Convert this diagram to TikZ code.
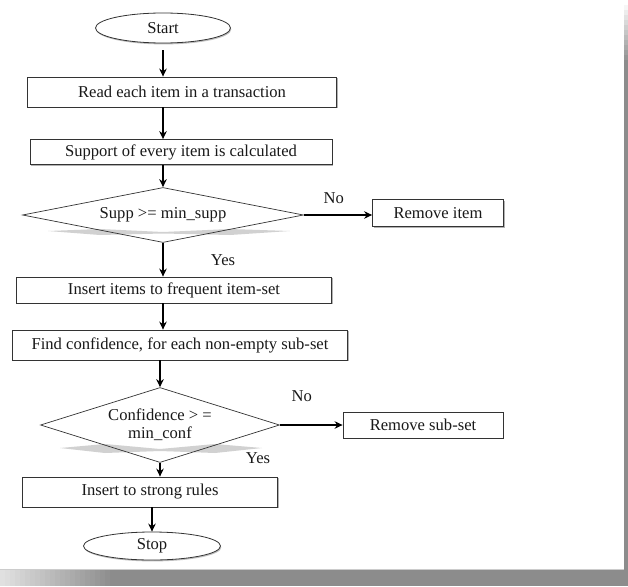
\documentclass[tikz,border=0pt]{standalone}
\usepackage{fontspec}
\setmainfont{Liberation Serif}
\usetikzlibrary{shapes.geometric,arrows.meta,shadows}

\begin{document}
\begin{tikzpicture}[x=1pt, y=-1pt,
    txt/.style={font=\fontsize{16.6}{18}\selectfont, text=black!90},
    procbox/.style={txt, draw=black!80, line width=0.8pt, fill=white, rectangle,
        inner sep=1pt, drop shadow={shadow xshift=1.4pt, shadow yshift=-1.4pt, opacity=0.6}},
    termnode/.style={txt, draw=black!80, line width=0.8pt, fill=white, ellipse,
        inner sep=0pt, drop shadow={shadow xshift=0.8pt, shadow yshift=-1.4pt, opacity=0.5}},
    decision/.style={txt, draw=black!80, line width=0.7pt, diamond, inner sep=1pt, align=center},
    flow/.style={line width=1.7pt, -{Stealth[length=8pt, width=7.5pt]}},
    lbl/.style={txt, inner sep=0pt}]

    % page with its shadowed edges
    \useasboundingbox (0,0) rectangle (628,586);
    \fill[white] (0,0) rectangle (624,569);
    \fill[black!45] (624,60) rectangle (628,569);
    \fill[black!45] (110,569) rectangle (628,586);
    \foreach \i in {0,...,21} {
        \pgfmathsetmacro{\g}{12+\i*1.5}   % darker step by step
        \fill[black!\g] (\i*5,569) rectangle (\i*5+5.3,586);
    }
    \foreach \i in {0,...,11} {
        \pgfmathsetmacro{\g}{\i*3.75}
        \fill[black!\g] (624,\i*5) rectangle (628,\i*5+5.3);
    }
    \draw[black!20, line width=0.6pt] (0,569) -- (624,569);

    % faint shadows under the two decisions
    \fill[gray!45, opacity=0.8] (48,231) -- (100,229) -- (163,232) -- (230,229) -- (290,231)
        -- (230,235) -- (163,233.5) -- (100,235) -- cycle;
    \fill[gray!45, opacity=0.8] (60,448) -- (105,444) -- (160,449) -- (215,444) -- (262,448)
        -- (215,453) -- (160,451) -- (105,453) -- cycle;

    % steps of the flow
    \node[termnode, minimum width=135pt, minimum height=30pt] (start) at (163,28) {Start};
    \node[procbox, minimum width=309pt, minimum height=30pt] (read) at (182,92) {Read each item in a transaction};
    \node[procbox, minimum width=302pt, minimum height=25pt] (support) at (181,152) {Support of every item is calculated};
    \node[decision, aspect=5.1, minimum width=281pt, minimum height=55pt] (supp) at (163,215) {Supp >= min\_supp};
    \node[procbox, minimum width=131pt, minimum height=27pt] (removeitem) at (438,213) {Remove item};
    \node[procbox, minimum width=315pt, minimum height=26pt] (insertfreq) at (174,290) {Insert items to frequent item-set};
    \node[procbox, minimum width=335pt, minimum height=30pt] (findconf) at (180,345) {Find confidence, for each non-empty sub-set};
    \node[decision, aspect=3.2, minimum width=239pt, minimum height=75pt] (conf) at (160,425) {Confidence > =\\min\_conf};
    \node[procbox, minimum width=160pt, minimum height=26pt] (removesub) at (423,425) {Remove sub-set};
    \node[procbox, minimum width=255pt, minimum height=30pt] (strong) at (150,492) {Insert to strong rules};
    \node[termnode, minimum width=137pt, minimum height=28pt] (stop) at (152,546) {Stop};

    % connectors
    \draw[flow, shorten <=7pt] (start.south) -- (start.south |- read.north);
    \draw[flow] (start.south |- read.south) -- (start.south |- support.north);
    \draw[flow] (supp.north |- support.south) -- (supp.north);
    \draw[flow] (supp.east) -- (supp.east -| removeitem.west)
        node[lbl, pos=0.44, above=10pt] {No};
    \draw[flow] (supp.south) -- (supp.south |- insertfreq.north)
        node[lbl, pos=0.5, xshift=60pt] {Yes};
    \draw[flow] (supp.south |- insertfreq.south) -- (supp.south |- findconf.north);
    \draw[flow] (conf.north |- findconf.south) -- (conf.north);
    \draw[flow] (conf.east) -- (conf.east -| removesub.west)
        node[lbl, pos=0.35, above=22pt] {No};
    \draw[flow] (conf.south) -- (conf.south |- strong.north)
        node[lbl, pos=0, xshift=98pt, yshift=5pt] {Yes};
    \draw[flow] (stop.north |- strong.south) -- (stop.north);
\end{tikzpicture}
\end{document}
